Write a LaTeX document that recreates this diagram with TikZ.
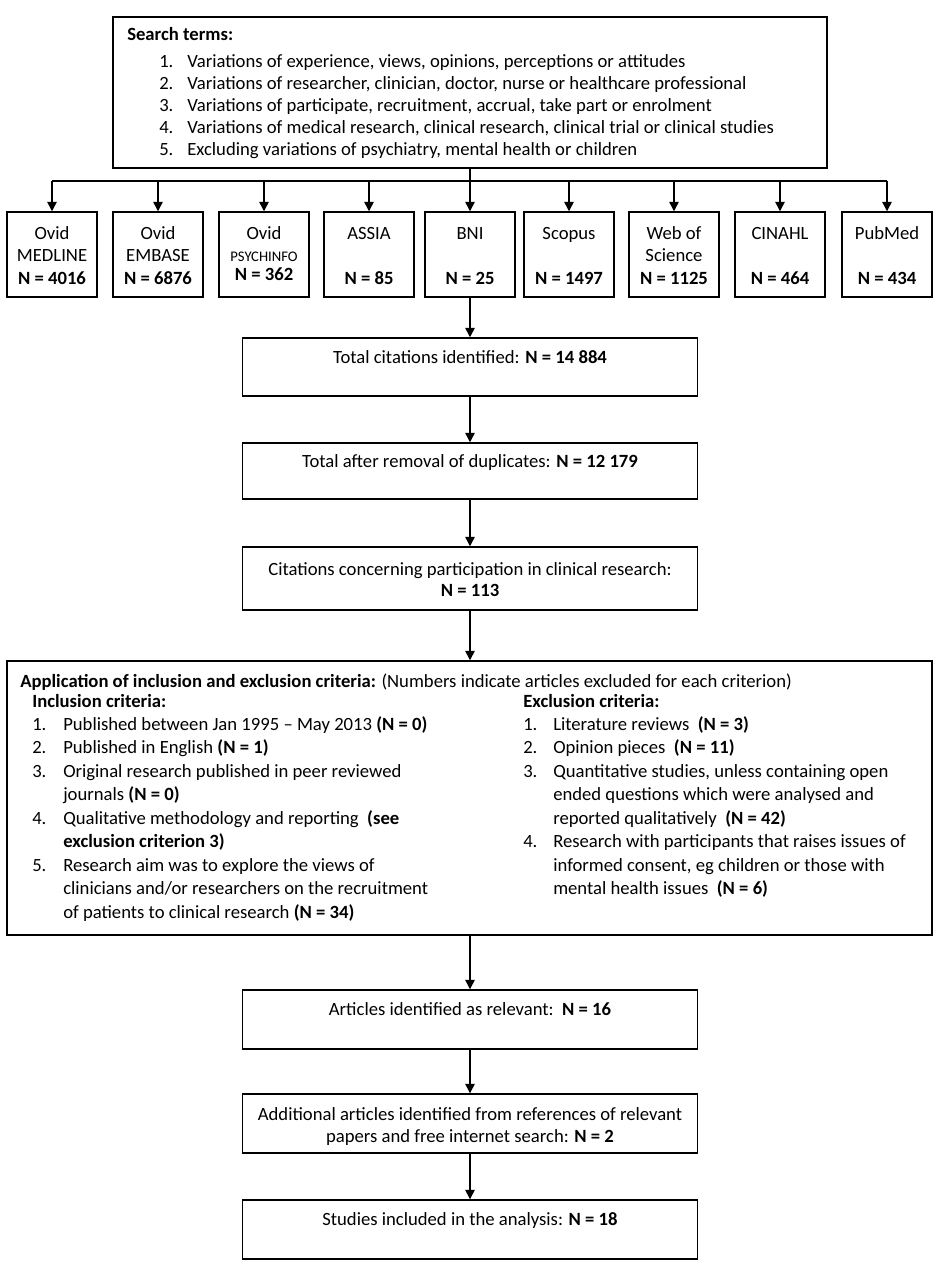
\documentclass[tikz,border=0pt]{standalone}
\usepackage{fontspec}
\setmainfont{Carlito}
\usetikzlibrary{arrows.meta}
\begin{document}
\begin{tikzpicture}[x=0.75pt,y=-0.75pt,
  box/.style={draw=black, line width=1.1pt, inner sep=0pt, fill=white},
  src/.style={box, minimum width=67.5pt, minimum height=63.75pt},
  mainbox/.style={box, minimum width=341.25pt},
  conn/.style={line width=1.1pt, -{Triangle[width=7pt,length=7pt]}},
  plain/.style={line width=1.1pt},
  txt/.style={inner sep=0pt, anchor=base west, font=\fontsize{14}{16.5}\selectfont},
  srctxt/.style={inner sep=0pt, anchor=base, font=\fontsize{14}{16.5}\selectfont},
  crit/.style={inner sep=0pt, anchor=base west, font=\fontsize{14}{17.6}\selectfont},
  mtxt/.style={inner sep=0pt, anchor=base, font=\fontsize{14}{16.25}\selectfont}
]
\useasboundingbox[fill=white] (0,0) rectangle (945,1266);

% top search terms box
\node[box, minimum width=535.5pt, minimum height=113.25pt] (search) at (470,92.5) {};
\node[txt] (searchhead) at (127,41) {\textbf{Search terms:}};
\node[txt] (searchtxt) at (159,68) {%
\begin{tabular}[t]{@{}p{21pt}@{}l@{}}
1. & Variations of experience, views, opinions, perceptions or attitudes\\
2. & Variations of researcher, clinician, doctor, nurse or healthcare professional\\
3. & Variations of participate, recruitment, accrual, take part or enrolment\\
4. & Variations of medical research, clinical research, clinical trial or clinical studies\\
5. & Excluding variations of psychiatry, mental health or children
\end{tabular}};

% source boxes
\node[src] (s1) at (52,254.5) {};
\node[src] (s2) at (158,254.5) {};
\node[src] (s3) at (264,254.5) {};
\node[src] (s4) at (369,254.5) {};
\node[src] (s5) at (470,254.5) {};
\node[src] (s6) at (569,254.5) {};
\node[src] (s7) at (674,254.5) {};
\node[src] (s8) at (780,254.5) {};
\node[src] (s9) at (887,254.5) {};

\node[srctxt] (t1) at (52,240) {\begin{tabular}[t]{@{}c@{}}Ovid\\MEDLINE\\\textbf{N = 4016}\end{tabular}};
\node[srctxt] (t2) at (158,240) {\begin{tabular}[t]{@{}c@{}}Ovid\\EMBASE\\\textbf{N = 6876}\end{tabular}};
\node[srctxt] (t3) at (264,240) {\begin{tabular}[t]{@{}c@{}}Ovid\\{\fontsize{11}{12}\selectfont PSYCHINFO}\\[-2.5pt]\textbf{N = 362}\end{tabular}};
\node[srctxt] (t4) at (369,240) {\begin{tabular}[t]{@{}c@{}}ASSIA\\ \\\textbf{N = 85}\end{tabular}};
\node[srctxt] (t5) at (470,240) {\begin{tabular}[t]{@{}c@{}}BNI\\ \\\textbf{N = 25}\end{tabular}};
\node[srctxt] (t6) at (569,240) {\begin{tabular}[t]{@{}c@{}}Scopus\\ \\\textbf{N = 1497}\end{tabular}};
\node[srctxt] (t7) at (674,240) {\begin{tabular}[t]{@{}c@{}}Web of\\Science\\\textbf{N = 1125}\end{tabular}};
\node[srctxt] (t8) at (780,240) {\begin{tabular}[t]{@{}c@{}}CINAHL\\ \\\textbf{N = 464}\end{tabular}};
\node[srctxt] (t9) at (887,240) {\begin{tabular}[t]{@{}c@{}}PubMed\\ \\\textbf{N = 434}\end{tabular}};

% bus
\coordinate (busL) at (52,181);
\coordinate (busR) at (887,181);
\draw[plain] (busL) -- (busR);
\draw[plain] (search.south) -- (470,181);
\foreach \i in {1,...,9} {
  \draw[conn] (s\i.north |- busL) -- (s\i.north);
}

% main chain
\node[mainbox, minimum height=43.5pt] (total) at (470,367) {};
\node[mtxt] (totaltxt) at (470,363) {Total citations identified: \textbf{N = 14 884}};
\node[mainbox, minimum height=42pt] (dedup) at (470,471) {};
\node[mtxt] (deduptxt) at (470,467) {Total after removal of duplicates: \textbf{N = 12 179}};
\node[mainbox, minimum height=47.25pt] (concern) at (470,578.5) {};
\node[mtxt] (concerntxt) at (470,575) {\begin{tabular}[t]{@{}c@{}}Citations concerning participation in clinical research:\\\textbf{N = 113}\end{tabular}};

% application box
\node[box, minimum width=693.75pt, minimum height=205.5pt] (app) at (469.5,798) {};
\node[crit] (apptxt) at (20,687) {\textbf{Application of inclusion and exclusion criteria:} (Numbers indicate articles excluded for each criterion)};
\node[crit] (inc) at (32,707) {%
\begin{tabular}[t]{@{}p{23.25pt}@{}l@{}}
\multicolumn{2}{@{}l@{}}{\textbf{Inclusion criteria:}}\\
1. & Published between Jan 1995 – May 2013 \textbf{(N = 0)}\\
2. & Published in English \textbf{(N = 1)}\\
3. & Original research published in peer reviewed\\
   & journals \textbf{(N = 0)}\\
4. & Qualitative methodology and reporting\ \ \textbf{(see}\\
   & \textbf{exclusion criterion 3)}\\
5. & Research aim was to explore the views of\\
   & clinicians and/or researchers on the recruitment\\
   & of patients to clinical research \textbf{(N = 34)}
\end{tabular}};
\node[crit] (exc) at (523,707) {%
\begin{tabular}[t]{@{}p{22.5pt}@{}l@{}}
\multicolumn{2}{@{}l@{}}{\textbf{Exclusion criteria:}}\\
1. & Literature reviews\ \ \textbf{(N = 3)}\\
2. & Opinion pieces\ \ \textbf{(N = 11)}\\
3. & Quantitative studies, unless containing open\\
   & ended questions which were analysed and\\
   & reported qualitatively\ \ \textbf{(N = 42)}\\
4. & Research with participants that raises issues of\\
   & informed consent, eg children or those with\\
   & mental health issues\ \ \textbf{(N = 6)}
\end{tabular}};

\node[mainbox, minimum height=44.25pt] (rel) at (470,1019.5) {};
\node[mtxt] (reltxt) at (470,1015) {Articles identified as relevant:\ \ \textbf{N = 16}};
\node[mainbox, minimum height=44.25pt] (add) at (470,1123.5) {};
\node[mtxt, font=\fontsize{14}{16.5}\selectfont] (addtxt) at (470,1120) {\begin{tabular}[t]{@{}c@{}}Additional articles identified from references of relevant\\papers and free internet search: \textbf{N = 2}\end{tabular}};
\node[mainbox, minimum height=44.25pt] (stud) at (470,1229.5) {};
\node[mtxt] (studtxt) at (470,1225) {Studies included in the analysis: \textbf{N = 18}};

\draw[conn] (s5.south) -- (s5.south |- total.north);
\draw[conn] (total) -- (dedup);
\draw[conn] (dedup) -- (concern);
\draw[conn] (concern.south) -- (concern.south |- app.north);
\draw[conn] (concern.south |- app.south) -- (rel.north);
\draw[conn] (rel) -- (add);
\draw[conn] (add) -- (stud);
\end{tikzpicture}
\end{document}
